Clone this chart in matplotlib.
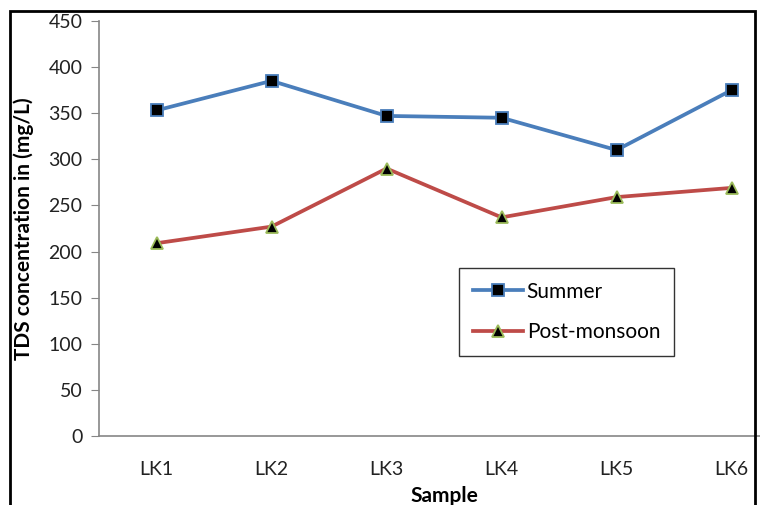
import matplotlib
matplotlib.use("Agg")
import matplotlib.pyplot as plt
from matplotlib.patches import Rectangle

samples = ["LK1", "LK2", "LK3", "LK4", "LK5", "LK6"]
summer = [353, 385, 347, 345, 310, 375]
post_monsoon = [209, 227, 290, 237, 259, 269]
yticks = [0, 50, 100, 150, 200, 250, 300, 350, 400, 450]

plt.rcParams['font.family'] = ['Lato', 'DejaVu Sans']

fig = plt.figure(figsize=(7.6, 5.05), dpi=100)
ax = fig.add_axes([0.1303, 0.1366, 0.908, 0.822])

x = list(range(len(samples)))
ax.plot(x, summer, color="#4a7ebb", lw=2.7, marker="s", ms=8,
        mfc="black", mec="#4a7ebb", mew=1.3, label="Summer")
ax.plot(x, post_monsoon, color="#be4b48", lw=2.7, marker="^", ms=9,
        mfc="black", mec="#9bbb59", mew=1.3, label="Post-monsoon")

ax.set_xlim(-0.5, 5.5)
ax.set_ylim(0, 450)
ax.set_yticks(yticks)
ax.set_xticks(x)
ax.set_xticklabels(samples)
ax.tick_params(axis="y", direction="out", length=6, color="#868686",
               labelsize=14, labelcolor="#222222", pad=6)
ax.tick_params(axis="x", length=0, labelsize=14, labelcolor="#222222", pad=18)
for s in ["top", "right"]:
    ax.spines[s].set_visible(False)
for s in ["left", "bottom"]:
    ax.spines[s].set_color("#868686")
    ax.spines[s].set_linewidth(1.2)

ax.set_ylabel("TDS concentration in (mg/L)", fontsize=15, fontweight="bold", labelpad=10)
ax.set_xlabel("Sample", fontsize=15, fontweight="bold", labelpad=6)

leg = ax.legend(loc="upper left", bbox_to_anchor=(459 / 760, 1 - 268 / 505),
                bbox_transform=fig.transFigure, fontsize=15, frameon=True,
                fancybox=False, edgecolor="black", borderpad=0.65,
                borderaxespad=0, labelspacing=1.0, handlelength=2.4,
                handletextpad=0.2)
leg.get_frame().set_linewidth(1.0)

fig.patches.append(Rectangle((10 / 760, -0.05), (755 - 10) / 760, 1.05 - 11 / 505,
                             transform=fig.transFigure, fill=False,
                             edgecolor="black", lw=2, zorder=10))

fig.savefig("out.png", dpi=100)
